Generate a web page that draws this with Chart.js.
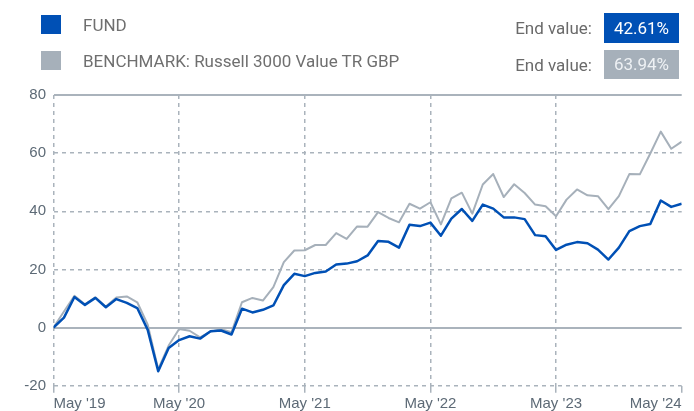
<!DOCTYPE html>
<html>
<head>
<meta charset="utf-8">
<script src="https://cdn.jsdelivr.net/npm/chart.js@4.4.0/dist/chart.umd.min.js"></script>
<style>
  html, body { margin: 0; padding: 0; background: #ffffff; }
  #wrap { position: relative; width: 694px; height: 411px; overflow: hidden; font-family: Roboto, "Noto Sans", sans-serif; }
  #c { position: absolute; left: 0; top: 0; }
  .sq { position: absolute; left: 41px; width: 20px; height: 19px; }
  .lbl { position: absolute; left: 83px; height: 20px; line-height: 20px; font-size: 17px; color: #6f6f6f; white-space: nowrap; }
  .ev { position: absolute; right: 102px; height: 20px; line-height: 20px; font-size: 17px; color: #6a6a6a; white-space: nowrap; }
  .badge { position: absolute; left: 604px; width: 75px; text-align: center; font-size: 17px; }
</style>
</head>
<body>
<div id="wrap">
  <canvas id="c" width="694" height="411"></canvas>
  <div class="sq" style="top:15px;background:#0050b5"></div>
  <div class="lbl" id="l1" style="top:15px"></div>
  <div class="sq" style="top:51px;background:#a6b0ba"></div>
  <div class="lbl" id="l2" style="top:51px"></div>
  <div class="ev" style="top:18px">End value:</div>
  <div class="ev" style="top:55px">End value:</div>
  <div class="badge" id="b1" style="top:13px;height:30px;line-height:30px;background:#0050b5;color:#ffffff"></div>
  <div class="badge" id="b2" style="top:50px;height:29px;line-height:29px;background:#a6b0ba;color:#eef1f4"></div>
</div>
<script>
const seriesNames = ['FUND', 'BENCHMARK: Russell 3000 Value TR GBP'];
const endValues = ['42.61%', '63.94%'];
const xTickLabels = ["May '19", "May '20", "May '21", "May '22", "May '23", "May '24"];
const yTicks = [-20, 0, 20, 40, 60, 80];

// Monthly points, May 2019 .. May 2024 (61 months)
const fund = [
  0, 3.4, 10.5, 7.8, 10.2, 7.0, 9.8, 8.5, 6.7, -0.8,
  -15.0, -7.0, -4.3, -3.0, -3.8, -1.3, -1.0, -2.4, 6.5, 5.2,
  6.1, 7.6, 14.6, 18.5, 17.7, 18.8, 19.3, 21.7, 22.0, 22.8,
  24.8, 29.8, 29.5, 27.5, 35.4, 34.9, 36.1, 31.6, 37.5, 40.8,
  36.7, 42.3, 40.9, 37.9, 37.9, 37.3, 31.8, 31.4, 26.7, 28.5,
  29.4, 29.0, 26.8, 23.4, 27.5, 33.2, 34.9, 35.6, 43.7, 41.5,
  42.61
];
const benchmark = [
  0, 5.5, 10.9, 8.0, 10.4, 7.2, 10.3, 10.7, 8.7, 1.0,
  -14.3, -6.2, -0.5, -1.1, -3.4, -1.4, -0.6, -1.6, 8.7, 10.2,
  9.3, 13.9, 22.5, 26.5, 26.6, 28.4, 28.4, 32.5, 30.5, 34.8,
  34.7, 39.7, 37.7, 36.2, 42.6, 40.9, 43.1, 35.5, 44.4, 46.4,
  39.2, 49.2, 52.8, 44.9, 49.3, 46.3, 42.3, 41.7, 38.3, 44.0,
  47.5, 45.5, 45.2, 40.7, 45.2, 52.8, 52.7, 59.9, 67.4, 61.5,
  63.94
];

document.getElementById('l1').textContent = seriesNames[0];
document.getElementById('l2').textContent = seriesNames[1];
document.getElementById('b1').textContent = endValues[0];
document.getElementById('b2').textContent = endValues[1];

const toXY = arr => arr.map((v, i) => ({ x: i, y: v }));
const monthsPerTick = 12;
const lastX = fund.length - 1;

new Chart(document.getElementById('c'), {
  type: 'line',
  data: {
    datasets: [
      { label: seriesNames[0], data: toXY(fund), borderColor: '#0050b5', borderWidth: 2.5, pointRadius: 0, tension: 0, borderJoinStyle: 'round' },
      { label: seriesNames[1], data: toXY(benchmark), borderColor: '#a6b0ba', borderWidth: 2, pointRadius: 0, tension: 0, borderJoinStyle: 'round' }
    ]
  },
  options: {
    responsive: false,
    animation: false,
    events: [],
    layout: { padding: { top: 95, right: 12.3, bottom: 0, left: 0 } },
    plugins: { legend: { display: false }, tooltip: { enabled: false }, title: { display: false } },
    scales: {
      x: {
        type: 'linear',
        min: 0,
        max: lastX,
        afterFit: s => { s.height = 25.3; },
        afterBuildTicks: s => { s.ticks = xTickLabels.map((_, i) => ({ value: i * monthsPerTick })); },
        ticks: {
          autoSkip: false,
          maxRotation: 0,
          align: 'inner',
          padding: 2,
          color: '#5d6a76',
          font: { family: '"Liberation Sans", Arial, sans-serif', size: 15 },
          callback: (v) => xTickLabels[Math.round(v / monthsPerTick)]
        },
        grid: {
          color: ctx => (ctx.tick && ctx.tick.value === lastX) ? 'rgba(0,0,0,0)' : '#aab3bc',
          tickColor: '#aab3bc',
          lineWidth: 1.5,
          tickWidth: 1.5,
          tickLength: 7,
          drawTicks: true
        },
        border: { display: false, dash: [4, 4] }
      },
      y: {
        min: yTicks[0],
        max: yTicks[yTicks.length - 1],
        afterFit: s => { s.width = 53.5; },
        afterBuildTicks: s => { s.ticks = yTicks.map(v => ({ value: v })); },
        ticks: {
          padding: 7.5,
          color: '#5d6a76',
          font: { family: '"Liberation Sans", Arial, sans-serif', size: 15 }
        },
        grid: {
          color: '#aab3bc',
          lineWidth: ctx => (ctx.tick && (ctx.tick.value === 0 || ctx.tick.value === 80)) ? 2 : 1.5,
          drawTicks: false
        },
        border: {
          display: false,
          dash: ctx => (ctx.tick && (ctx.tick.value === 0 || ctx.tick.value === 80)) ? [] : [4, 4]
        }
      }
    }
  }
});
</script>
</body>
</html>
